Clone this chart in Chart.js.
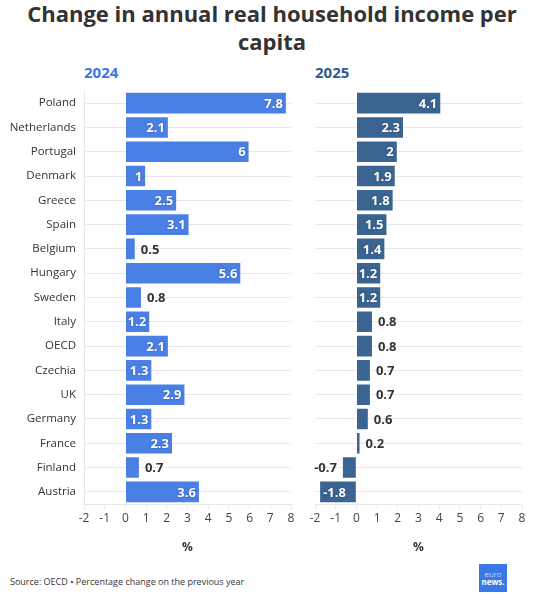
<!DOCTYPE html>
<html>
<head>
<meta charset="utf-8">
<script src="https://cdn.jsdelivr.net/npm/chart.js@4.4.1/dist/chart.umd.min.js"></script>
<style>
  html, body { margin: 0; padding: 0; background: #fff; }
  body { width: 544px; height: 600px; position: relative; overflow: hidden; font-family: "Open Sans", sans-serif; color: #333; }
  #title { position: absolute; left: 0; top: -1px; width: 544px; text-align: center; font-weight: 700; font-size: 22px; line-height: 28px; color: #333; }
  .year { position: absolute; top: 62px; font-weight: 700; font-size: 15px; }
  #y24 { left: 84px; color: #3b78e7; }
  #y25 { left: 315px; color: #2f5b8c; }
  #c1wrap { position: absolute; left: 0; top: 85px; width: 300px; height: 470px; }
  #c2wrap { position: absolute; left: 300px; top: 85px; width: 244px; height: 470px; }
  #source { position: absolute; left: 10px; top: 575px; font-size: 9px; color: #333; }
  #logo { position: absolute; left: 479px; top: 564px; width: 28px; height: 28px; background: #3b78e7; color: #fff; font-size: 8px; line-height: 8px; text-align: center; padding-top: 6px; box-sizing: border-box; }
</style>
</head>
<body>
<div id="title">Change in annual real household income per<br>capita</div>
<div class="year" id="y24">2024</div>
<div class="year" id="y25">2025</div>
<div id="c1wrap"><canvas id="c1"></canvas></div>
<div id="c2wrap"><canvas id="c2"></canvas></div>
<div id="source">Source: OECD • Percentage change on the previous year</div>
<div id="logo"><span style="font-weight:300">euro</span><br><span style="font-weight:700">news.</span></div>
<script>
const countries = ["Poland","Netherlands","Portugal","Denmark","Greece","Spain","Belgium","Hungary","Sweden","Italy","OECD","Czechia","UK","Germany","France","Finland","Austria"];
const values2024 = [7.8, 2.1, 6, 1, 2.5, 3.1, 0.5, 5.6, 0.8, 1.2, 2.1, 1.3, 2.9, 1.3, 2.3, 0.7, 3.6];
const values2025 = [4.1, 2.3, 2, 1.9, 1.8, 1.5, 1.4, 1.2, 1.2, 0.8, 0.8, 0.7, 0.7, 0.6, 0.2, -0.7, -1.8];
const xTicks = [-2, -1, 0, 1, 2, 3, 4, 5, 6, 7, 8];

const FONT = "'Open Sans', sans-serif";
const GRID = "#e8e8e8";

const labelPlugin = {
  id: "barLabels",
  afterDatasetsDraw(chart) {
    const ctx = chart.ctx;
    const meta = chart.getDatasetMeta(0);
    const data = chart.data.datasets[0].data;
    ctx.save();
    ctx.font = "bold 13px " + FONT;
    ctx.textBaseline = "middle";
    meta.data.forEach((bar, i) => {
      const v = data[i];
      const txt = String(v);
      const inside = Math.abs(v) >= 1;
      let x, align;
      if (v >= 0) {
        if (inside) { x = bar.x - 4; align = "right"; }
        else { x = bar.x + 5; align = "left"; }
      } else {
        if (inside) { x = bar.x + 4; align = "left"; }
        else { x = bar.x - 5; align = "right"; }
      }
      ctx.textAlign = align;
      if (inside) {
        ctx.fillStyle = "#ffffff";
        ctx.shadowColor = "rgba(0,0,0,0.35)";
        ctx.shadowBlur = 2;
      } else {
        ctx.fillStyle = "#333333";
        ctx.shadowColor = "transparent";
        ctx.shadowBlur = 0;
      }
      ctx.fillText(txt, x, bar.y + 1);
    });
    ctx.restore();
  }
};

function makeChart(id, values, color, yWidth, showLabels, showBorder, padRight) {
  return new Chart(document.getElementById(id), {
    type: "bar",
    data: {
      labels: countries,
      datasets: [{
        data: values,
        backgroundColor: color,
        borderColor: "rgba(255,255,255,0.35)",
        borderWidth: 1,
        barPercentage: 0.93,
        categoryPercentage: 1
      }]
    },
    options: {
      indexAxis: "y",
      responsive: true,
      maintainAspectRatio: false,
      animation: false,
      layout: { padding: { top: 6, right: padRight, left: 0, bottom: 0 } },
      plugins: { legend: { display: false }, tooltip: { enabled: false } },
      scales: {
        x: {
          min: -2, max: 8,
          afterBuildTicks(scale) { scale.ticks = xTicks.map(v => ({ value: v })); },
          afterFit(scale) { scale.height = 51; scale.paddingLeft = 0; scale.paddingRight = 0; },
          grid: { drawOnChartArea: false, drawTicks: true, tickLength: 5, color: GRID },
          border: { display: true, color: GRID },
          ticks: { color: "#444", font: { family: FONT, size: 12 }, padding: 2, autoSkip: false, maxRotation: 0 },
          title: { display: true, text: "%", color: "#333", font: { family: FONT, size: 12, weight: "bold" }, padding: { top: 4, bottom: 0 } }
        },
        y: {
          afterFit(scale) { scale.width = yWidth; scale.paddingTop = 0; scale.paddingBottom = 0; },
          grid: { offset: false, drawTicks: false, color: GRID },
          border: { display: showBorder, color: GRID },
          ticks: { display: showLabels, color: "#333", font: { family: FONT, size: 11.5 }, padding: 8 }
        }
      }
    },
    plugins: [labelPlugin]
  });
}

makeChart("c1", values2024, "#4a7fe6", 84, true, true, 9);
makeChart("c2", values2025, "#3a6491", 15, false, false, 22);
</script>
</body>
</html>
